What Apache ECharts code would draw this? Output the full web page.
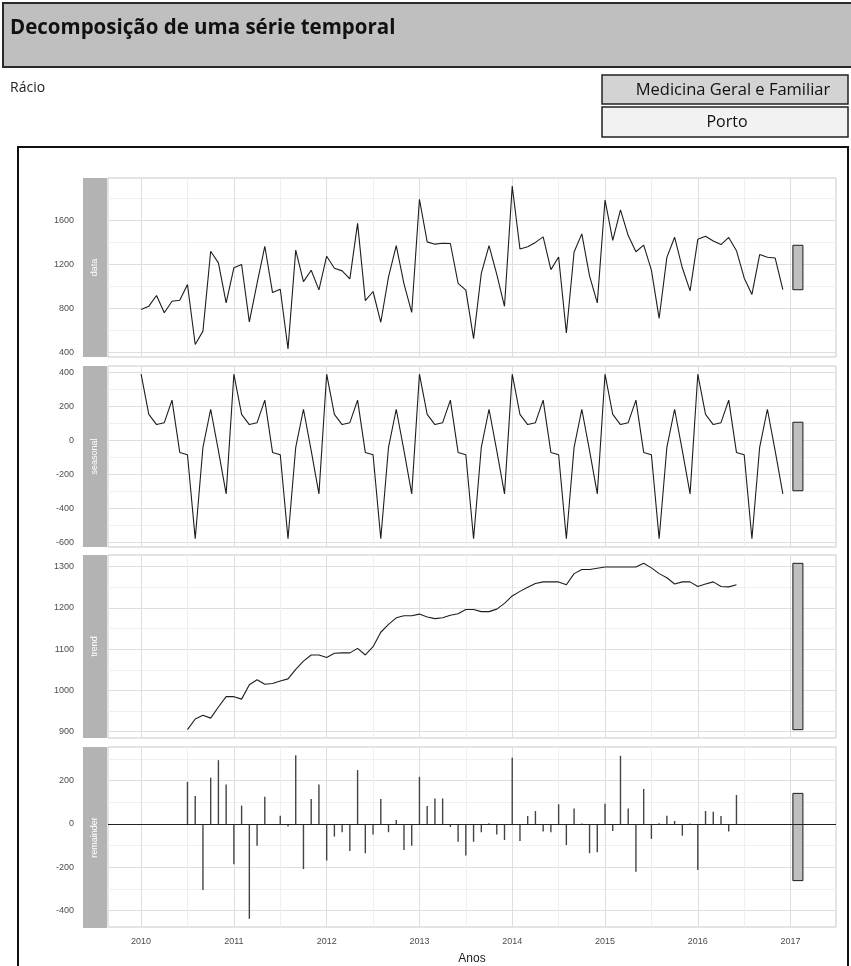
<!DOCTYPE html>
<html><head><meta charset="utf-8">
<script src="https://cdn.jsdelivr.net/npm/echarts@6/dist/echarts.min.js"></script>
<style>html,body{margin:0;padding:0;background:#fff}#c{width:851px;height:966px}</style>
</head><body><div id="c"></div><script>
// ---------- data ----------
const startYear = 2010;
const trendStartYear = 2010.5;
const monthsPerYear = 12;
const panelNames = ['data', 'seasonal', 'trend', 'remainder'];

const dataValues = [
  792, 822, 919, 762, 867, 876, 1018, 475, 596, 1320, 1214, 852,
  1170, 1200, 680, 1029, 1365, 945, 975, 435, 1330, 1045, 1148, 970,
  1275, 1165, 1142, 1069, 1572, 872, 955, 676, 1088, 1370, 1025, 765,
  1791, 1405, 1384, 1392, 1390, 1028, 968, 528, 1120, 1370, 1110, 821,
  1910, 1340, 1360, 1400, 1450, 1153, 1268, 579, 1313, 1477, 1096, 852,
  1785, 1419, 1695, 1462, 1315, 1375, 1148, 712, 1264, 1447, 1170, 960,
  1428, 1455, 1412, 1380, 1445, 1325, 1078, 928, 1290, 1265, 1259, 973
];
const seasonalValues = [
  388, 152, 92, 103, 236, -72, -86, -580, -42, 182, -62, -316,
  388, 152, 92, 103, 236, -72, -86, -580, -42, 182, -62, -316,
  388, 152, 92, 103, 236, -72, -86, -580, -42, 182, -62, -316,
  388, 152, 92, 103, 236, -72, -86, -580, -42, 182, -62, -316,
  388, 152, 92, 103, 236, -72, -86, -580, -42, 182, -62, -316,
  388, 152, 92, 103, 236, -72, -86, -580, -42, 182, -62, -316,
  388, 152, 92, 103, 236, -72, -86, -580, -42, 182, -62, -316
];
const trendValues = [
  905, 931, 940, 933, 960, 985,
  985, 979, 1014, 1026, 1015, 1017,
  1023, 1028, 1051, 1071, 1086, 1086,
  1080, 1090, 1091, 1091, 1102, 1086,
  1106, 1141, 1160, 1176, 1181, 1181,
  1185, 1178, 1174, 1176, 1182, 1186,
  1196, 1196, 1191, 1191, 1197, 1211,
  1229, 1240, 1250, 1259, 1263, 1263,
  1263, 1256, 1283, 1293, 1293, 1296,
  1299, 1299, 1299, 1299, 1299, 1308,
  1297, 1283, 1273, 1258, 1263, 1263,
  1252, 1258, 1263, 1252, 1251, 1256
];
const remainderValues = [
  195, 129, -305, 214, 295, 183,
  -186, 85, -438, -100, 126, -5,
  38, -12, 318, -208, 115, 183,
  -169, -58, -38, -125, 249, -135,
  -48, 115, -38, 18, -120, -100,
  218, 83, 118, 118, -14, -82,
  -146, -82, -38, 3, -48, -74,
  306, -78, 37, 60, -35, -38,
  91, -97, 72, 2, -135, -131,
  94, -32, 315, 72, -220, 162,
  -69, 4, 38, 14, -54, 2,
  -212, 60, 57, 37, -35, 134
];

const xTickLabels = [2010, 2011, 2012, 2013, 2014, 2015, 2016, 2017];
const xGridValues = [2010, 2010.5, 2011, 2011.5, 2012, 2012.5, 2013, 2013.5, 2014, 2014.5, 2015, 2015.5, 2016, 2016.5, 2017];
const dataTickLabels = [400, 800, 1200, 1600];
const dataGridValues = [400, 600, 800, 1000, 1200, 1400, 1600, 1800];
const seasonalTickLabels = [-600, -400, -200, 0, 200, 400];
const seasonalGridValues = [-600, -500, -400, -300, -200, -100, 0, 100, 200, 300, 400];
const trendTickLabels = [900, 1000, 1100, 1200, 1300];
const trendGridValues = [900, 950, 1000, 1050, 1100, 1150, 1200, 1250, 1300];
const remainderTickLabels = [-400, -200, 0, 200];
const remainderGridValues = [-400, -300, -200, -100, 0, 100, 200, 300];

// ---------- derived ----------
const dataPts = dataValues.map((v, i) => [startYear + i / monthsPerYear, v]);
const seasonalPts = seasonalValues.map((v, i) => [startYear + i / monthsPerYear, v]);
const trendPts = trendValues.map((v, i) => [trendStartYear + i / monthsPerYear, v]);
const remainderPts = remainderValues.map((v, i) => [trendStartYear + i / monthsPerYear, v]);

const comps = [dataValues, seasonalValues, trendValues, remainderValues];
const ranges = comps.map(a => [Math.min(...a), Math.max(...a)]);
const lastT = startYear + (dataValues.length - 1) / monthsPerYear;
const xr = lastT - startYear;
const barW = xr / 64;
const barLeft = lastT + barW, barRight = lastT + 2 * barW;
const barLen = Math.min(...ranges.map(r => r[1] - r[0]));
const xSpan = barRight - startYear;
const xMin = startYear - 0.05 * xSpan, xMax = barRight + 0.05 * xSpan;
const yExt = ranges.map(r => { const d = r[1] - r[0]; return [r[0] - 0.05 * d, r[1] + 0.05 * d]; });

// ---------- layout ----------
const gridLeft = 108, gridWidth = 728;
const panels = [[178, 179], [366, 181], [555, 183], [747, 181]];
const tickLabelSets = [dataTickLabels, seasonalTickLabels, trendTickLabels, remainderTickLabels];
const gridValueSets = [dataGridValues, seasonalGridValues, trendGridValues, remainderGridValues];
const labelFont = { color: '#4d4d4d', fontSize: 9, fontFamily: 'Liberation Sans, Arial, sans-serif' };

const grids = panels.map(p => ({
  left: gridLeft, width: gridWidth, top: p[0], height: p[1],
  show: true, backgroundColor: '#fff', borderColor: '#c9c9c9', borderWidth: 1, containLabel: false
}));
const xAxes = panels.map((p, i) => ({
  type: 'value', gridIndex: i, min: xMin, max: xMax,
  axisLine: { show: false },
  axisTick: { show: false, customValues: xGridValues },
  axisLabel: {
    show: i === 3, customValues: xTickLabels, margin: 10, ...labelFont,
    formatter: v => String(v)
  },
  splitLine: { show: true, lineStyle: { color: ['#dedede', '#efefef'], width: 1 } },
  name: i === 3 ? 'Anos' : '', nameLocation: 'middle', nameGap: 26,
  nameTextStyle: { color: '#222', fontSize: 12, fontFamily: 'Liberation Sans, Arial, sans-serif' }
}));
const yAxes = panels.map((p, i) => ({
  type: 'value', gridIndex: i, min: yExt[i][0], max: yExt[i][1],
  axisLine: { show: false },
  axisTick: { show: false, customValues: gridValueSets[i] },
  axisLabel: { customValues: tickLabelSets[i], margin: 34, ...labelFont, formatter: v => String(v) },
  splitLine: { show: true, lineStyle: { color: ['#dedede', '#efefef'], width: 1 } }
}));

const lineStyle = { color: '#1e1e1e', width: 1.1 };
const series = [
  { type: 'line', xAxisIndex: 0, yAxisIndex: 0, data: dataPts, showSymbol: false, lineStyle, silent: true },
  { type: 'line', xAxisIndex: 1, yAxisIndex: 1, data: seasonalPts, showSymbol: false, lineStyle, silent: true },
  { type: 'line', xAxisIndex: 2, yAxisIndex: 2, data: trendPts, showSymbol: false, lineStyle, silent: true },
  {
    type: 'custom', xAxisIndex: 3, yAxisIndex: 3, data: remainderPts, silent: true,
    encode: { x: 0, y: 1 },
    renderItem: (params, api) => {
      const p0 = api.coord([api.value(0), 0]);
      const p1 = api.coord([api.value(0), api.value(1)]);
      return { type: 'line', shape: { x1: p0[0], y1: p0[1], x2: p1[0], y2: p1[1] },
        style: { stroke: '#444', lineWidth: 1.4 } };
    },
    markLine: {
      silent: true, symbol: 'none', animation: false, label: { show: false },
      lineStyle: { color: '#222', width: 1, type: 'solid' },
      data: [{ yAxis: 0 }]
    }
  }
];
// range bars
ranges.forEach((r, i) => {
  const mid = (r[0] + r[1]) / 2;
  series.push({
    type: 'custom', xAxisIndex: i, yAxisIndex: i, silent: true,
    data: [[barLeft, barRight, mid - barLen / 2, mid + barLen / 2]],
    encode: { x: [0, 1], y: [2, 3] },
    renderItem: (params, api) => {
      const a = api.coord([api.value(0), api.value(3)]);
      const b = api.coord([api.value(1), api.value(2)]);
      return { type: 'rect', shape: { x: a[0], y: a[1], width: b[0] - a[0], height: b[1] - a[1] },
        style: { fill: '#bfbfbf', stroke: '#1a1a1a', lineWidth: 1 } };
    }
  });
});

// strips & header graphics
const graphics = [
  { type: 'rect', shape: { x: 3, y: 3, width: 870, height: 64 }, style: { fill: '#bfbfbf', stroke: '#2a2a2a', lineWidth: 2 } },
  { type: 'text', x: 10, y: 28, style: { text: 'Decomposição de uma série temporal', fill: '#111', font: 'bold 20.5px "Open Sans", sans-serif', verticalAlign: 'middle' } },
  { type: 'text', x: 10, y: 88, style: { text: 'Rácio', fill: '#222', font: '14px "Open Sans", sans-serif', verticalAlign: 'middle' } },
  { type: 'rect', shape: { x: 602, y: 75, width: 246, height: 29 }, style: { fill: '#d3d3d3', stroke: '#222', lineWidth: 1.5 } },
  { type: 'text', x: 733, y: 90, style: { text: 'Medicina Geral e Familiar', fill: '#111', font: '16.5px "Open Sans", sans-serif', align: 'center', verticalAlign: 'middle' } },
  { type: 'rect', shape: { x: 602, y: 107, width: 246, height: 30 }, style: { fill: '#f2f2f2', stroke: '#222', lineWidth: 1.5 } },
  { type: 'text', x: 727, y: 122, style: { text: 'Porto', fill: '#111', font: '16px "Open Sans", sans-serif', align: 'center', verticalAlign: 'middle' } },
  { type: 'rect', shape: { x: 18, y: 147, width: 830, height: 900 }, style: { fill: 'none', stroke: '#111', lineWidth: 2 } }
];
panels.forEach((p, i) => {
  graphics.push({ type: 'rect', shape: { x: 83, y: p[0], width: 24, height: p[1] }, style: { fill: '#b3b3b3' } });
  graphics.push({ type: 'text', x: 95, y: p[0] + p[1] / 2, rotation: Math.PI / 2,
    style: { text: panelNames[i], fill: '#fff', font: '9px "Liberation Sans", sans-serif', align: 'center', verticalAlign: 'middle' } });
});

const chart = echarts.init(document.getElementById('c'), null, { renderer: 'canvas' });
chart.setOption({
  animation: false,
  backgroundColor: '#fff',
  grid: grids, xAxis: xAxes, yAxis: yAxes, series,
  graphic: { elements: graphics }
});
</script></body></html>
